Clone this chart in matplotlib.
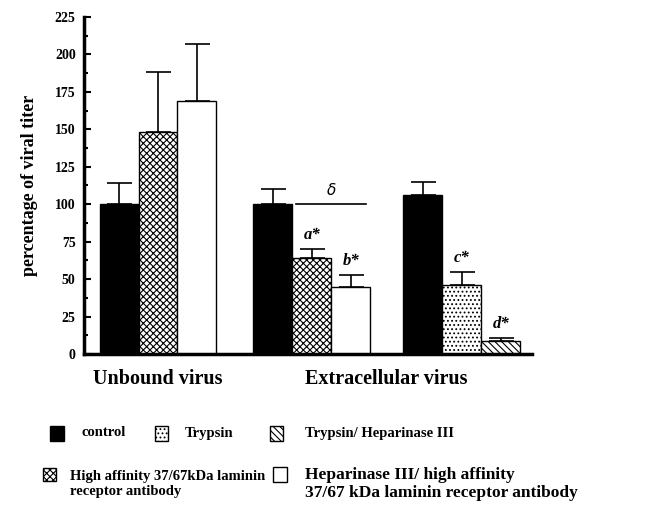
import matplotlib
matplotlib.use('Agg')
import matplotlib.pyplot as plt
from matplotlib.patches import Rectangle
from matplotlib.ticker import MultipleLocator

plt.rcParams['font.family'] = ['Liberation Serif', 'DejaVu Serif']
plt.rcParams['hatch.linewidth'] = 0.8

# data
groups = ['Unbound virus', 'Extracellular virus']
unbound_labels = ['control', 'High affinity', 'Heparinase III/ high affinity']
unbound_vals = [100, 148, 169]
unbound_err = [14, 40, 38]
extra1_labels = ['control', 'High affinity', 'Heparinase III/ high affinity']
extra1_vals = [100, 64, 45]
extra1_err = [10, 6, 8]
extra2_labels = ['control', 'Trypsin', 'Trypsin/ Heparinase III']
extra2_vals = [106, 46, 9]
extra2_err = [9, 9, 2]
sig_marks = ['', 'a*', 'b*', '', 'c*', 'd*']

styles = {
    'control': dict(facecolor='black', hatch=None),
    'High affinity': dict(facecolor='white', hatch='xxxxx'),
    'Heparinase III/ high affinity': dict(facecolor='white', hatch=None),
    'Trypsin': dict(facecolor='white', hatch='....'),
    'Trypsin/ Heparinase III': dict(facecolor='white', hatch='\\\\\\\\\\'),
}

fig = plt.figure(figsize=(6.65, 5.07), dpi=100)
ax = fig.add_axes([0.1263, 0.3018, 0.6737, 0.6647])

pos_unbound = [0.9, 1.9, 2.9]
pos_ex1 = [4.85, 5.85, 6.85]
pos_ex2 = [8.7, 9.7, 10.7]

def draw(pos, labels, vals, errs, marks=None):
    for i, (x, lab, v, e) in enumerate(zip(pos, labels, vals, errs)):
        st = styles[lab]
        ax.bar(x, v, width=1.0, color=st['facecolor'], hatch=st['hatch'],
               edgecolor='black', linewidth=1.0, zorder=2)
        ax.errorbar(x, v, yerr=[[0], [e]], fmt='none', ecolor='black',
                    elinewidth=1.2, capsize=9, capthick=1.2, zorder=3)
        if marks and marks[i]:
            ax.text(x, v + e + 4, marks[i], ha='center', va='bottom',
                    fontsize=12, fontweight='bold', fontstyle='italic')

draw(pos_unbound, unbound_labels, unbound_vals, unbound_err)
draw(pos_ex1, extra1_labels, extra1_vals, extra1_err, sig_marks[:3])
draw(pos_ex2, extra2_labels, extra2_vals, extra2_err, sig_marks[3:])

# significance line
ax.plot([5.45, 7.25], [100, 100], color='black', lw=1.2, zorder=3)
ax.text(6.35, 104, r'$\delta$', ha='center', va='bottom', fontsize=11)

ax.set_xlim(0, 11.5)
ax.set_ylim(0, 225)
ax.yaxis.set_major_locator(MultipleLocator(25))
ax.yaxis.set_minor_locator(MultipleLocator(12.5))
ax.tick_params(axis='y', which='major', direction='in', length=5, width=1.5,
               labelsize=10, pad=6)
ax.tick_params(axis='y', which='minor', direction='in', length=3, width=1.5)
for lab in ax.get_yticklabels():
    lab.set_fontweight('bold')
ax.set_xticks([])
for s in ['top', 'right']:
    ax.spines[s].set_visible(False)
ax.spines['left'].set_linewidth(2.5)
ax.spines['bottom'].set_linewidth(2.5)
ax.set_ylabel('percentage of viral titer', fontsize=13, fontweight='bold', labelpad=12)

ax.text(1.9, -10, groups[0], ha='center', va='top', fontsize=14.5, fontweight='bold')
ax.text(7.75, -10, groups[1], ha='center', va='top', fontsize=14.5, fontweight='bold')

# legend drawn by hand
W, H = 665, 507

def box(x0, y0, w, h, key):
    st = styles[key]
    fig.patches.append(Rectangle((x0 / W, 1 - (y0 + h) / H), w / W, h / H,
                                 transform=fig.transFigure, facecolor=st['facecolor'],
                                 hatch=st['hatch'], edgecolor='black', linewidth=1.0))

def txt(x, y, s, size=10.5):
    fig.text(x / W, 1 - y / H, s, ha='left', va='center', fontsize=size,
             fontweight='bold', linespacing=1.2)

box(50, 426, 14, 15, 'control')
txt(82, 433, 'control')
box(155, 426, 13, 15, 'Trypsin')
txt(185, 433, 'Trypsin')
box(270, 426, 13, 15, 'Trypsin/ Heparinase III')
txt(305, 433, 'Trypsin/ Heparinase III')
box(43, 468, 13, 13, 'High affinity')
txt(70, 484, 'High affinity 37/67kDa laminin\nreceptor antibody')
box(273, 467, 14, 15, 'Heparinase III/ high affinity')
txt(305, 484, 'Heparinase III/ high affinity\n37/67 kDa laminin receptor antibody', 12.5)

fig.savefig('out.png', dpi=100)
